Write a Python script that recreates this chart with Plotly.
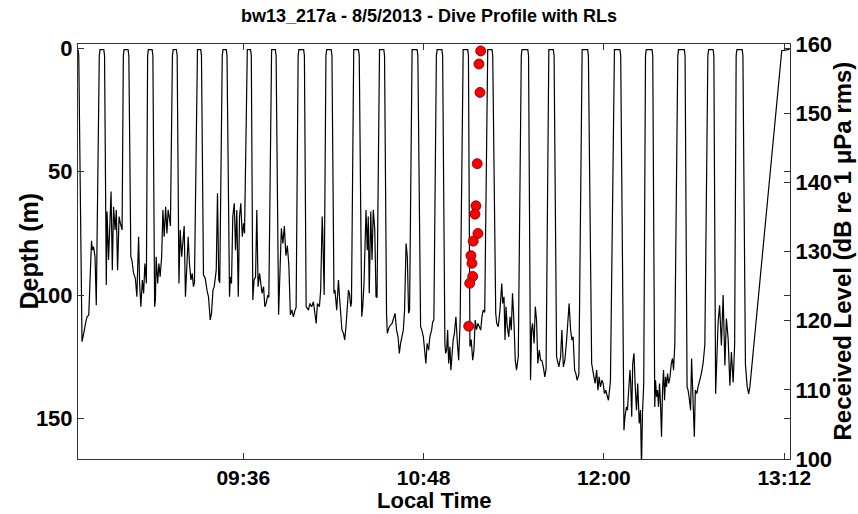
import pandas as pd
import plotly.graph_objects as go

# minutes after 08:30 local time, 5 Aug 2013, and depth (m) of the tag track
dive_min = [
    0.0, 0.3, 1.6, 2.0, 2.4, 3.0, 3.6, 4.3, 4.7, 5.0, 5.2, 5.4, 5.7, 6.2, 6.8, 7.0, 7.3, 8.5, 8.8, 10.3, 10.6,
    11.3, 11.6, 12.2, 12.6, 13.2, 13.7, 14.2, 14.8, 15.3, 15.8, 16.4, 16.9, 17.6, 18.1, 18.4, 20.0, 20.3,
    21.1, 21.5, 22.2, 22.9, 23.5, 24.2, 24.6, 25.1, 25.7, 26.2, 26.7, 27.3, 27.8, 28.1, 29.6, 29.9,
    30.6, 30.9, 31.2, 31.8, 32.3, 32.8, 33.4, 33.9, 34.4, 35.0, 35.5, 36.0, 36.6, 36.9, 37.7, 38.0, 39.3, 39.6,
    40.3, 40.8, 41.4, 41.9, 42.4, 42.9, 43.5, 44.0, 44.5, 45.1, 45.6, 46.1, 46.5, 47.4, 47.7, 49.0, 49.3,
    50.1, 50.8, 51.5, 52.1, 52.8, 53.3, 53.9, 54.4, 55.2, 55.7, 56.2, 56.6, 57.6, 57.9, 59.2, 59.5,
    60.5, 60.8, 61.3, 61.8, 62.4, 62.9, 63.4, 64.0, 64.5, 65.0, 65.6, 66.1, 66.5, 67.3, 67.6, 68.9, 69.2,
    69.8, 70.3, 70.9, 71.4, 71.9, 72.5, 73.0, 73.5, 74.1, 74.6, 75.1, 75.8, 76.2, 77.0, 77.3, 78.8, 79.1,
    80.1, 80.6, 81.2, 81.8, 82.4, 83.0, 83.6, 84.2, 84.8, 85.4, 86.0, 86.7, 87.1, 87.9, 88.2, 90.1, 90.4,
    91.1, 92.0, 92.6, 93.3, 94.0, 94.7, 95.1, 95.6, 96.4, 96.9, 97.5, 97.7, 98.0, 98.3, 99.0, 99.3, 101.1, 101.4,
    102.2, 102.6, 103.3, 104.0, 104.4, 104.9, 105.4, 106.0, 106.5, 107.0, 107.6, 108.0, 108.4, 108.9, 109.2,
    109.8, 110.1, 112.0, 112.3,
    113.3, 113.7, 114.2, 114.6, 115.0, 115.5, 115.9, 116.3, 116.9, 117.4, 117.9, 118.5, 119.0, 119.4,
    120.1, 120.4, 122.1, 122.4,
    123.2, 123.5, 124.3, 125.4, 126.6, 127.2, 127.8, 128.3, 128.8, 129.4, 129.9, 130.4, 131.0, 131.5, 132.0,
    132.4, 133.1, 133.4, 135.4, 135.7,
    136.8, 137.3, 137.9, 138.4, 138.9, 139.4, 140.0, 140.5, 141.2, 141.6, 142.1, 143.1, 143.4, 145.3, 145.6,
    146.5, 146.8, 147.2, 147.6, 148.0, 148.5, 148.9, 149.4, 149.8, 150.3, 150.9, 151.5, 152.0, 152.6,
    153.5, 153.8, 155.6, 155.9,
    156.5, 157.0, 157.6, 158.1, 158.6, 159.1, 159.7, 160.2, 160.8, 161.3, 161.8, 162.4, 163.3, 163.6, 165.3, 165.6,
    166.8, 167.2, 167.8, 168.5, 169.2, 169.6, 170.1, 170.5, 170.9, 171.4, 172.0, 172.5, 173.0, 173.5, 174.1,
    174.6, 175.1, 175.8, 177.0, 177.3, 179.6, 179.9,
    180.7, 181.1, 181.5, 182.1, 182.6, 183.1, 183.6, 184.2, 184.7, 185.2, 185.8, 186.4, 186.9, 187.7, 188.0,
    189.8, 190.1,
    191.1, 191.5, 192.0, 192.7, 193.2, 193.8, 194.4, 195.1, 195.8, 196.1, 196.7, 197.2, 197.7, 198.3, 198.8,
    199.3, 200.0, 201.0, 201.3, 203.5, 203.8,
    205.1, 205.6, 206.0, 206.5, 207.1, 207.6, 208.1, 208.6, 209.2, 209.7, 210.2, 210.7, 211.3, 211.8, 212.6,
    213.9, 214.2, 216.4, 216.7,
    218.0, 218.4, 219.0, 219.4, 219.8, 220.4, 220.7, 221.1, 221.5, 222.0, 222.5, 223.0, 223.5, 224.1, 224.6,
    225.0, 225.4, 225.9, 226.6, 226.9, 229.2, 229.5,
    230.3, 230.6, 231.0, 231.4, 231.8, 232.2, 232.6, 233.0, 233.4, 233.8, 234.2, 234.6, 235.0, 235.4, 235.9,
    236.4, 236.9, 237.4, 237.8, 238.3, 239.5, 239.8, 242.1, 242.4,
    243.2, 243.6, 244.0, 244.6, 245.0, 245.4, 245.8, 246.1, 246.5, 247.1, 247.6, 248.3, 248.9, 249.6, 250.3,
    251.5, 251.8, 253.6, 253.9,
    254.6, 255.1, 255.6, 256.2, 256.9, 257.6, 258.3, 258.9, 259.6, 260.3, 260.9, 261.6, 262.2, 262.8, 263.1,
    265.2, 265.5,
    266.5, 267.2, 267.8, 268.3, 281.0, 284.1,
]
dive_depth_m = [
    0.5, 3, 118.9, 116.0, 114.9, 111.5, 108.8, 108.1, 95.3, 92.0, 79.1, 78.0, 81.8, 80.4, 84.5, 95.3, 104.1, 3, 0.6, 0.6, 3,
    95.9, 66.2, 85.8, 73.6, 58.1, 89.9, 64.2, 73.6, 65.5, 89.9, 68.2, 70.9, 73.6, 3, 0.6, 0.6, 3,
    84.5, 85.8, 91.2, 93.2, 100.7, 76.4, 95.3, 104.7, 93.9, 99.3, 87.2, 95.3, 3, 0.6, 0.6, 3,
    104.7, 102.0, 84.5, 95.3, 87.2, 92.6, 84.5, 65.5, 76.4, 64.2, 75.0, 65.5, 69.6, 72.0, 3, 0.6, 0.6, 3,
    95.3, 73.6, 84.5, 79.1, 72.0, 100.7, 89.9, 76.4, 87.2, 93.9, 91.2, 96.6, 95.0, 3, 0.6, 0.6, 3,
    91.9, 93.2, 98.0, 100.7, 110.1, 107.4, 98.0, 96.6, 89.9, 58.8, 93.9, 95.0, 3, 0.6, 0.6, 3,
    100.7, 92.6, 95.3, 68.2, 62.8, 81.8, 65.5, 100.7, 68.2, 62.8, 76.4, 70.9, 75.0, 3, 0.6, 0.6, 3,
    102.0, 93.9, 92.6, 65.5, 96.6, 91.2, 95.3, 99.3, 96.6, 104.7, 103.4, 100.0, 101.0, 3, 0.6, 0.6, 3,
    108.0, 90.0, 73.0, 79.1, 72.0, 84.0, 80.0, 88.0, 108.0, 106.0, 108.8, 106.0, 105.0, 3, 0.6, 0.6, 3,
    104.7, 106.1, 103.4, 104.7, 102.7, 108.8, 111.5, 103.4, 104.7, 98.0, 68.2, 73.6, 99.3, 100.0, 3, 0.6, 0.6, 3,
    99.3, 98.0, 106.1, 93.9, 100.7, 110.1, 114.2, 115.5, 118.2, 112.8, 100.7, 98.0, 99.3, 104.7, 103.0,
    3, 0.6, 0.6, 3,
    108.8, 104.7, 95.3, 73.6, 65.5, 81.8, 68.2, 99.3, 66.2, 85.8, 65.5, 73.6, 100.7, 101.0,
    3, 0.6, 0.6, 3,
    107.4, 115.5, 112.8, 111.5, 107.4, 114.2, 116.9, 123.6, 119.6, 116.9, 114.2, 106.1, 79.1, 84.5, 107.4,
    106.0, 3, 0.6, 0.6, 3,
    112.8, 114.2, 116.9, 122.3, 127.7, 119.6, 122.3, 116.9, 114.2, 111.0, 110.0, 3, 0.6, 0.6, 3,
    119.6, 123.6, 122.3, 114.2, 127.7, 120.9, 130.4, 122.3, 118.2, 115.5, 108.8, 119.6, 126.4, 110.0,
    3, 0.6, 0.6, 3,
    120.9, 118.0, 126.4, 122.3, 110.1, 114.0, 111.5, 112.8, 114.2, 108.8, 106.1, 107.0, 3, 0.6, 0.6, 3,
    107.4, 111.5, 112.8, 106.1, 95.3, 103.4, 100.7, 118.2, 104.7, 112.8, 116.9, 108.8, 114.2, 99.3, 111.5,
    126.4, 130.4, 125.0, 3, 0.6, 0.6, 3,
    134.5, 114.2, 111.5, 119.6, 104.7, 110.1, 127.7, 122.3, 126.4, 126.4, 129.1, 133.1, 130.0, 3, 0.6,
    0.6, 3,
    125.0, 127.7, 129.1, 125.0, 114.2, 129.1, 126.4, 118.2, 110.1, 103.4, 114.2, 118.2, 116.9, 130.4, 131.8,
    134.5, 132.0, 3, 0.6, 0.6, 3,
    127.7, 131.8, 133.1, 135.8, 130.4, 138.5, 133.1, 137.2, 134.5, 135.8, 139.9, 138.5, 141.2, 142.6, 135.0,
    3, 0.6, 0.6, 3,
    154.7, 149.3, 145.3, 146.6, 139.9, 130.4, 135.8, 149.3, 127.7, 123.6, 137.2, 146.6, 135.8, 152.0, 146.6,
    170.0, 148.0, 135.8, 3, 0.6, 0.6, 3,
    145.3, 134.5, 141.2, 138.5, 145.3, 135.8, 144.0, 157.4, 138.5, 130.4, 142.6, 133.1, 137.2, 131.8, 135.8,
    133.1, 127.7, 125.7, 130.4, 120.0, 3, 0.6, 0.6, 3,
    137.2, 138.5, 141.2, 146.6, 125.7, 135.8, 145.3, 157.4, 138.5, 139.9, 137.2, 134.5, 131.8, 127.7, 120.0,
    3, 0.6, 0.6, 3,
    140.0, 128.5, 110.9, 104.1, 120.4, 100.0, 128.5, 109.5, 117.7, 136.7, 123.1, 135.4, 120.0, 3, 0.6,
    0.6, 3,
    128.0, 137.0, 140.0, 137.0, 1.0, 0.5,
]

# received levels (dB re 1 uPa rms) of the detected signals
rl_min = [160.8, 160.1, 160.5, 159.4, 158.9, 158.5, 159.7, 157.8, 156.9, 157.3, 157.6, 156.4, 156.0]
rl_db = [159.0, 157.1, 153.0, 142.7, 136.6, 135.4, 132.6, 131.5, 129.4, 128.3, 126.4, 125.4, 119.2]

time_ticks = ["09:36", "10:48", "12:00", "13:12"]
depth_ticks = [0, 50, 100, 150]
rl_ticks = [100, 110, 120, 130, 140, 150, 160]

assert len(dive_min) == len(dive_depth_m)

start = pd.Timestamp("2013-08-05 08:30:00")


def clock(mins):
    return [start + pd.Timedelta(minutes=m) for m in mins]


font = "Liberation Sans, Arial, sans-serif"
bold = lambda size: dict(family=font, size=size, color="black", weight="bold")

fig = go.Figure()
fig.add_trace(go.Scatter(x=clock(dive_min), y=dive_depth_m, mode="lines",
                         line=dict(color="black", width=1.2), showlegend=False))
fig.add_trace(go.Scatter(x=clock(rl_min), y=rl_db, mode="markers", yaxis="y2",
                         marker=dict(color="#ff0000", size=10, line=dict(color="#6b0000", width=0.8)),
                         showlegend=False))

fig.update_layout(
    width=858, height=514,
    margin=dict(l=78, r=68, t=44, b=55),
    paper_bgcolor="white", plot_bgcolor="white",
    title=dict(text="bw13_217a - 8/5/2013 - Dive Profile with RLs", x=0.5, xanchor="center",
               y=1 - 16 / 514, yanchor="middle", font=bold(18)),
    xaxis=dict(type="date", range=[start, start + pd.Timedelta(minutes=284.3)],
               tickvals=[pd.Timestamp("2013-08-05 " + t) for t in time_ticks], ticktext=time_ticks,
               ticks="inside", ticklen=6, tickcolor="#333", showline=True, linecolor="#333",
               mirror="ticks", showgrid=False, zeroline=False, tickfont=bold(21)),
    yaxis=dict(range=[166.4, -1.7], tickvals=depth_ticks, ticks="inside", ticklen=6,
               tickcolor="#333", showline=True, linecolor="#333", mirror="ticks",
               showgrid=False, zeroline=False, tickfont=bold(22)),
    yaxis2=dict(range=[100, 160], tickvals=rl_ticks, overlaying="y", side="right",
                ticks="inside", ticklen=6, tickcolor="#333", showline=True, linecolor="#333",
                showgrid=False, zeroline=False, tickfont=bold(22)),
    annotations=[
        dict(text="Local Time", x=0.5, y=-41 / 415, xref="paper", yref="paper",
             showarrow=False, font=bold(22), xanchor="center", yanchor="middle"),
        dict(text="Depth (m)", x=-50 / 712, y=0.5, xref="paper", yref="paper", textangle=-90,
             showarrow=False, font=bold(25), xanchor="center", yanchor="middle"),
        dict(text="Received Level (dB re 1 μPa rms)", x=1 + 52 / 712, y=0.5, xref="paper",
             yref="paper", textangle=-90, showarrow=False, font=bold(24),
             xanchor="center", yanchor="middle"),
    ],
)

# the page's default 8px body margin would push the 858x514 figure out of the window
fig.write_html("out.html", config={"displayModeBar": False},
               post_script="document.body.style.margin='0';")
